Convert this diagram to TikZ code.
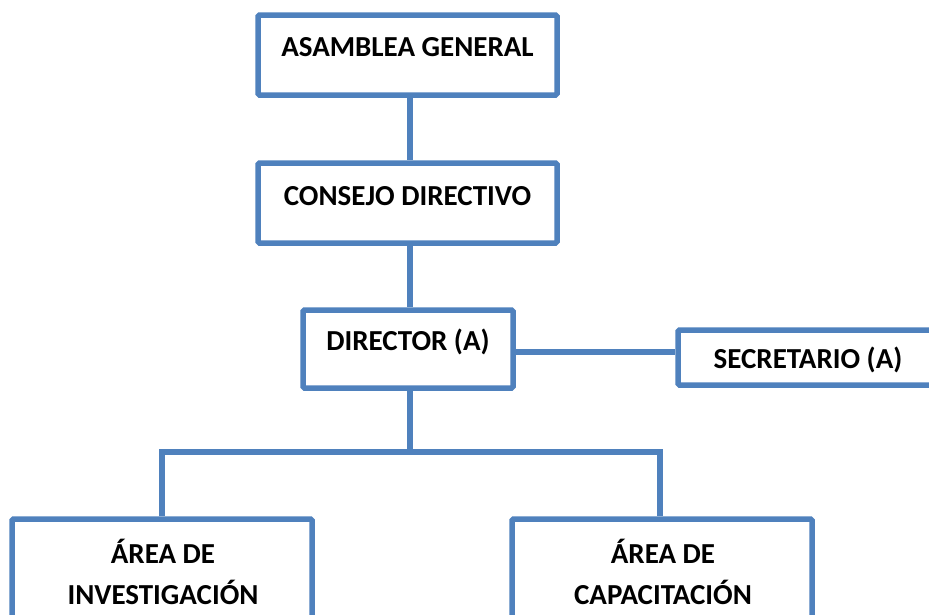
\documentclass[tikz,border=0pt]{standalone}
\usepackage{fontspec}
\setmainfont{Carlito}
\definecolor{boxblue}{HTML}{4F81BD}
\begin{document}
\begin{tikzpicture}[x=1pt,y=-1pt,
  box/.style={draw=boxblue, line width=5.5pt, fill=white, rounded corners=1.5pt, inner sep=0pt},
  lbl/.style={font=\fontsize{29}{41}\selectfont\bfseries, align=center, inner sep=0pt, text=black},
  conn/.style={draw=boxblue, line width=5.5pt}]
\useasboundingbox (0,0) rectangle (929,614);
\clip (0,0) rectangle (929,614);
% boxes
\node[box, minimum width=299pt, minimum height=80pt] (asam) at (407.5,55) {};
\node[box, minimum width=299pt, minimum height=80pt] (cons) at (407.5,203) {};
\node[box, minimum width=210pt, minimum height=78pt] (dir) at (408,349) {};
\node[box, minimum width=300pt, minimum height=55pt] (sec) at (828,357.5) {};
\node[box, minimum width=300pt, minimum height=140pt] (inv) at (162,589) {};
\node[box, minimum width=300pt, minimum height=140pt] (cap) at (662,589) {};
% labels
\node[lbl] (asamt) at (407.5,47) {ASAMBLEA GENERAL};
\node[lbl] (const) at (407.5,196) {CONSEJO DIRECTIVO};
\node[lbl] (dirt) at (408,342) {DIRECTOR (A)};
\node[lbl] (sect) at (808,360) {SECRETARIO (A)};
\node[lbl] (invt) at (163,572) {ÁREA DE\\INVESTIGACIÓN};
\node[lbl] (capt) at (663,572) {ÁREA DE\\CAPACITACIÓN};
% connector helpers
\coordinate (mid) at (410,452);
\coordinate (jl) at (162,452);
\coordinate (jr) at (660,452);
% connectors
\draw[conn] (asam.south -| mid) -- (cons.north -| mid);
\draw[conn] (cons.south -| mid) -- (dir.north -| mid);
\draw[conn] (dir.south -| mid) -- (mid);
\draw[conn, line join=miter] (inv.north -| jl) -- (jl) -- (jr) -- (cap.north -| jr);
\draw[conn] (dir.east |- 0,352) -- (sec.west |- 0,352);
\end{tikzpicture}
\end{document}
